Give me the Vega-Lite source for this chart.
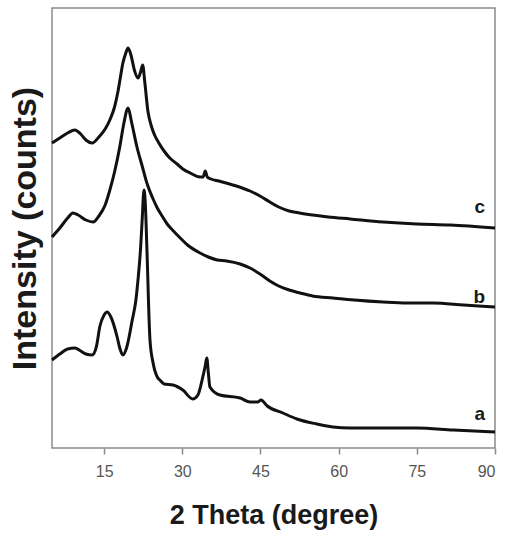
{
  "$schema": "https://vega.github.io/schema/vega-lite/v6.json",
  "autosize": {"type": "none"},
  "padding": {"left": 52, "top": 8, "right": 12, "bottom": 88},
  "width": 443,
  "height": 440,
  "background": "white",
  "config": {
    "view": {"stroke": "#8a8a8a", "strokeWidth": 1.5},
    "font": "Liberation Sans"
  },
  "datasets": {
    "xrd": [
      {"s": "c", "t": 5.0, "i": 305}, {"s": "c", "t": 6.5, "i": 310}, {"s": "c", "t": 8.0, "i": 315}, {"s": "c", "t": 9.4, "i": 318},
      {"s": "c", "t": 10.5, "i": 314}, {"s": "c", "t": 11.5, "i": 308}, {"s": "c", "t": 12.7, "i": 305}, {"s": "c", "t": 14.0, "i": 311},
      {"s": "c", "t": 15.2, "i": 319}, {"s": "c", "t": 16.1, "i": 328}, {"s": "c", "t": 17.0, "i": 341}, {"s": "c", "t": 17.6, "i": 355},
      {"s": "c", "t": 18.1, "i": 370}, {"s": "c", "t": 18.6, "i": 385}, {"s": "c", "t": 19.1, "i": 394}, {"s": "c", "t": 19.6, "i": 400},
      {"s": "c", "t": 20.2, "i": 392}, {"s": "c", "t": 20.8, "i": 378}, {"s": "c", "t": 21.5, "i": 370}, {"s": "c", "t": 22.0, "i": 376},
      {"s": "c", "t": 22.4, "i": 383}, {"s": "c", "t": 22.8, "i": 366}, {"s": "c", "t": 23.4, "i": 337}, {"s": "c", "t": 24.0, "i": 323},
      {"s": "c", "t": 24.6, "i": 314}, {"s": "c", "t": 25.5, "i": 305}, {"s": "c", "t": 26.5, "i": 297}, {"s": "c", "t": 27.6, "i": 290},
      {"s": "c", "t": 29.0, "i": 284}, {"s": "c", "t": 30.1, "i": 279}, {"s": "c", "t": 31.5, "i": 275}, {"s": "c", "t": 33.4, "i": 271},
      {"s": "c", "t": 34.0, "i": 271}, {"s": "c", "t": 34.4, "i": 277}, {"s": "c", "t": 34.8, "i": 271}, {"s": "c", "t": 35.5, "i": 269},
      {"s": "c", "t": 37.0, "i": 267}, {"s": "c", "t": 39.7, "i": 263}, {"s": "c", "t": 41.5, "i": 260}, {"s": "c", "t": 43.0, "i": 257},
      {"s": "c", "t": 44.9, "i": 252}, {"s": "c", "t": 46.8, "i": 246}, {"s": "c", "t": 48.5, "i": 241}, {"s": "c", "t": 50.5, "i": 237},
      {"s": "c", "t": 52.5, "i": 235}, {"s": "c", "t": 55.0, "i": 233}, {"s": "c", "t": 58.0, "i": 231}, {"s": "c", "t": 62.2, "i": 229},
      {"s": "c", "t": 68.5, "i": 226}, {"s": "c", "t": 75.0, "i": 224}, {"s": "c", "t": 81.4, "i": 223}, {"s": "c", "t": 90.0, "i": 220},
      {"s": "b", "t": 5.0, "i": 211}, {"s": "b", "t": 6.5, "i": 220}, {"s": "b", "t": 8.0, "i": 230}, {"s": "b", "t": 9.0, "i": 235},
      {"s": "b", "t": 10.0, "i": 233}, {"s": "b", "t": 11.5, "i": 228}, {"s": "b", "t": 12.9, "i": 226}, {"s": "b", "t": 14.0, "i": 232},
      {"s": "b", "t": 15.2, "i": 243}, {"s": "b", "t": 16.1, "i": 258}, {"s": "b", "t": 17.0, "i": 276}, {"s": "b", "t": 18.0, "i": 301},
      {"s": "b", "t": 18.8, "i": 325}, {"s": "b", "t": 19.6, "i": 340}, {"s": "b", "t": 20.3, "i": 325}, {"s": "b", "t": 21.3, "i": 301},
      {"s": "b", "t": 22.3, "i": 282}, {"s": "b", "t": 23.2, "i": 265}, {"s": "b", "t": 24.4, "i": 249}, {"s": "b", "t": 25.2, "i": 240},
      {"s": "b", "t": 26.0, "i": 233}, {"s": "b", "t": 27.1, "i": 224}, {"s": "b", "t": 28.3, "i": 217}, {"s": "b", "t": 29.6, "i": 210},
      {"s": "b", "t": 31.0, "i": 203}, {"s": "b", "t": 33.4, "i": 195}, {"s": "b", "t": 35.0, "i": 191}, {"s": "b", "t": 36.7, "i": 188},
      {"s": "b", "t": 38.5, "i": 187}, {"s": "b", "t": 41.1, "i": 184}, {"s": "b", "t": 43.0, "i": 180}, {"s": "b", "t": 44.9, "i": 174},
      {"s": "b", "t": 46.8, "i": 167}, {"s": "b", "t": 48.5, "i": 162}, {"s": "b", "t": 50.5, "i": 158}, {"s": "b", "t": 52.6, "i": 155},
      {"s": "b", "t": 55.0, "i": 152}, {"s": "b", "t": 58.9, "i": 150}, {"s": "b", "t": 63.0, "i": 148}, {"s": "b", "t": 68.5, "i": 146},
      {"s": "b", "t": 73.0, "i": 145}, {"s": "b", "t": 78.1, "i": 145}, {"s": "b", "t": 84.0, "i": 143}, {"s": "b", "t": 90.0, "i": 141},
      {"s": "a", "t": 5.0, "i": 88}, {"s": "a", "t": 6.5, "i": 94}, {"s": "a", "t": 8.0, "i": 99}, {"s": "a", "t": 9.4, "i": 100},
      {"s": "a", "t": 10.5, "i": 97}, {"s": "a", "t": 11.5, "i": 94}, {"s": "a", "t": 12.7, "i": 93}, {"s": "a", "t": 13.5, "i": 101},
      {"s": "a", "t": 14.2, "i": 122}, {"s": "a", "t": 15.0, "i": 133}, {"s": "a", "t": 15.6, "i": 136}, {"s": "a", "t": 16.3, "i": 131},
      {"s": "a", "t": 17.5, "i": 111}, {"s": "a", "t": 18.0, "i": 100}, {"s": "a", "t": 18.6, "i": 93}, {"s": "a", "t": 19.3, "i": 100},
      {"s": "a", "t": 20.4, "i": 128}, {"s": "a", "t": 21.1, "i": 148}, {"s": "a", "t": 21.5, "i": 168}, {"s": "a", "t": 22.0, "i": 200},
      {"s": "a", "t": 22.3, "i": 228}, {"s": "a", "t": 22.65, "i": 258}, {"s": "a", "t": 22.9, "i": 245}, {"s": "a", "t": 23.2, "i": 201},
      {"s": "a", "t": 23.8, "i": 108}, {"s": "a", "t": 24.4, "i": 85}, {"s": "a", "t": 25.2, "i": 71}, {"s": "a", "t": 25.7, "i": 68},
      {"s": "a", "t": 26.5, "i": 64}, {"s": "a", "t": 28.2, "i": 63}, {"s": "a", "t": 30.1, "i": 58}, {"s": "a", "t": 32.0, "i": 49},
      {"s": "a", "t": 33.0, "i": 53}, {"s": "a", "t": 33.8, "i": 68}, {"s": "a", "t": 34.4, "i": 82}, {"s": "a", "t": 34.7, "i": 90},
      {"s": "a", "t": 35.0, "i": 75}, {"s": "a", "t": 35.3, "i": 61}, {"s": "a", "t": 37.2, "i": 53}, {"s": "a", "t": 41.1, "i": 50},
      {"s": "a", "t": 43.0, "i": 46}, {"s": "a", "t": 44.5, "i": 46}, {"s": "a", "t": 45.1, "i": 48}, {"s": "a", "t": 46.3, "i": 42},
      {"s": "a", "t": 49.3, "i": 35}, {"s": "a", "t": 52.0, "i": 29}, {"s": "a", "t": 55.8, "i": 24}, {"s": "a", "t": 58.9, "i": 21},
      {"s": "a", "t": 62.2, "i": 20}, {"s": "a", "t": 68.0, "i": 20}, {"s": "a", "t": 75.0, "i": 20}, {"s": "a", "t": 82.0, "i": 18},
      {"s": "a", "t": 90.0, "i": 16}
    ],
    "labels": [
      {"s": "c", "t": 88.1, "i": 235},
      {"s": "b", "t": 88.1, "i": 145},
      {"s": "a", "t": 88.1, "i": 28}
    ]
  },
  "layer": [
    {
      "data": {"name": "xrd"},
      "mark": {"type": "line", "color": "#111111", "strokeWidth": 3, "strokeJoin": "round", "interpolate": "monotone"},
      "encoding": {
        "x": {
          "field": "t", "type": "quantitative",
          "scale": {"domain": [5, 90], "nice": false, "zero": false},
          "axis": {
            "title": "2 Theta (degree)",
            "values": [15, 30, 45, 60, 75, 90],
            "grid": false,
            "domain": false,
            "ticks": true, "tickSize": 6, "tickColor": "#8a8a8a", "tickWidth": 1.5,
            "labelFontSize": 16, "labelColor": "#555555", "labelPadding": 9, "labelFont": "Liberation Sans",
            "titleFontSize": 27, "titleFontWeight": "bold", "titleColor": "#1a1a1a", "titlePadding": 23, "titleFont": "Liberation Sans"
          }
        },
        "y": {
          "field": "i", "type": "quantitative",
          "scale": {"domain": [0, 440], "nice": false},
          "axis": {
            "title": "Intensity (counts)",
            "grid": false, "domain": false, "ticks": false, "labels": false,
            "titleFontSize": 34, "titleFontWeight": "bold", "titleColor": "#1a1a1a", "titlePadding": 10, "titleFont": "Liberation Sans"
          }
        },
        "detail": {"field": "s"}
      }
    },
    {
      "data": {"name": "labels"},
      "mark": {"type": "text", "align": "right", "baseline": "alphabetic", "fontSize": 19, "fontWeight": "bold", "color": "#1a1a1a", "font": "Liberation Sans"},
      "encoding": {
        "x": {"field": "t", "type": "quantitative"},
        "y": {"field": "i", "type": "quantitative"},
        "text": {"field": "s"}
      }
    }
  ]
}
